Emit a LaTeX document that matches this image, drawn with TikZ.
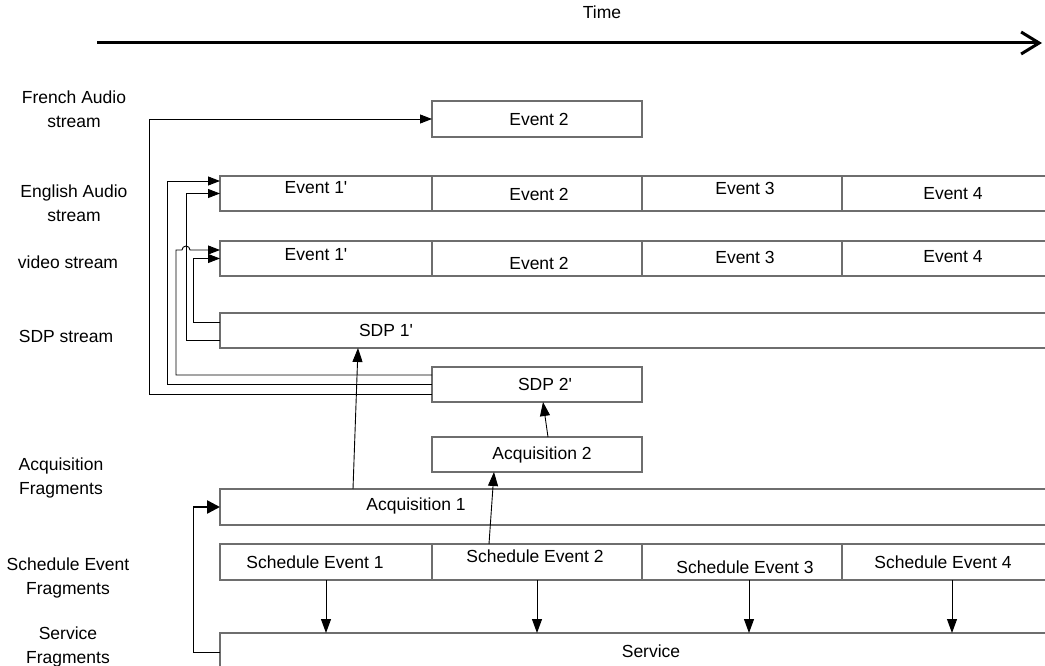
\documentclass[tikz,border=0pt]{standalone}
\usepackage{fontspec}
\setmainfont{Liberation Sans}
\usetikzlibrary{arrows.meta,calc}
\definecolor{boxgray}{HTML}{6E6E6E}
\newcommand{\pr}{\textquotesingle}
\begin{document}
\begin{tikzpicture}[x=1pt,y=-1pt,
  font=\fontsize{17.5}{24}\selectfont,
  cell/.style={draw=boxgray,line width=1.1pt,inner sep=0pt,outer sep=0pt,minimum height=35pt},
  txt/.style={inner sep=0pt},
  lbl/.style={align=center,inner sep=0pt},
  conn/.style={draw=black,line width=0.9pt},
  arr/.style={conn,-{Triangle[length=12pt,width=9pt]}},
  arrb/.style={conn,-{Triangle[length=14pt,width=10pt]}},
]
\useasboundingbox (0,0) rectangle (1045,666);
\clip (0,0) rectangle (1045,666);

% time axis
\coordinate (t0) at (97,43);
\coordinate (t1) at (1042,43);
\draw[line width=3pt,-{Straight Barb[length=18pt,width=22pt]}] (t0) -- (t1);
\node[txt] (time) at (602,12) {Time};

% left labels
\node[lbl] (lfr)  at (74,109) {French Audio\\stream};
\node[lbl] (len)  at (74,203) {English Audio\\stream};
\node[lbl] (lvi)  at (68,262) {video stream};
\node[lbl] (lsdp) at (66,336) {SDP stream};
\node[lbl] (lacq) at (61,478) {Acquisition\\Fragments};
\node[lbl] (lsch) at (68,578) {Schedule Event\\Fragments};
\node[lbl] (lsrv) at (68,647) {Service\\Fragments};

% French audio
\node[cell,minimum width=210pt,minimum height=36pt] (fr2) at (537,119) {};
% English audio row
\node[cell,minimum width=212pt] (en1) at (326,193.5) {};
\node[cell,minimum width=210pt] (en2) at (537,193.5) {};
\node[cell,minimum width=200pt] (en3) at (742,193.5) {};
\node[cell,minimum width=210pt] (en4) at (947,193.5) {};
% video row
\node[cell,minimum width=212pt] (vi1) at (326,258.5) {};
\node[cell,minimum width=210pt] (vi2) at (537,258.5) {};
\node[cell,minimum width=200pt] (vi3) at (742,258.5) {};
\node[cell,minimum width=210pt] (vi4) at (947,258.5) {};
% SDP
\node[cell,minimum width=832pt] (sdpS) at (636,330.5) {};
\node[cell,minimum width=210pt] (sdp2) at (537,384.5) {};
% acquisition
\node[cell,minimum width=210pt] (acq2) at (537,454.5) {};
\node[cell,minimum width=832pt,minimum height=36pt] (acq1) at (636,507) {};
% schedule
\node[cell,minimum width=212pt,minimum height=36pt] (sch1) at (326,562) {};
\node[cell,minimum width=210pt,minimum height=36pt] (sch2) at (537,562) {};
\node[cell,minimum width=200pt,minimum height=36pt] (sch3) at (742,562) {};
\node[cell,minimum width=210pt,minimum height=36pt] (sch4) at (947,562) {};
% service
\node[cell,minimum width=832pt,minimum height=38pt] (serv) at (636,652) {};

% texts
\node[txt] (tfr2) at (539,119) {Event 2};
\node[txt] (ten1) at (316,188) {Event 1\pr};
\node[txt] (ten2) at (539,194) {Event 2};
\node[txt] (ten3) at (745,188) {Event 3};
\node[txt] (ten4) at (953,194) {Event 4};
\node[txt] (tvi1) at (316,255) {Event 1\pr};
\node[txt] (tvi2) at (539,263) {Event 2};
\node[txt] (tvi3) at (745,257) {Event 3};
\node[txt] (tvi4) at (953,257) {Event 4};
\node[txt] (tsdp1) at (386,330) {SDP 1\pr};
\node[txt] (tsdp2) at (545,384) {SDP 2\pr};
\node[txt] (tacq2) at (542,455) {Acquisition 2};
\node[txt] (tacq1) at (416,506) {Acquisition 1};
\node[txt] (tsch1) at (315,562) {Schedule Event 1};
\node[txt] (tsch2) at (535,556) {Schedule Event 2};
\node[txt] (tsch3) at (745,567) {Schedule Event 3};
\node[txt] (tsch4) at (943,562) {Schedule Event 4};
\node[txt] (tserv) at (651,651) {Service};

% left connectors
\draw[arr] ([yshift=-9.5pt]sdpS.west) -| (186,193.5) -- (en1.west);
\draw[arr] ([yshift=8.5pt]sdpS.west) -| (193,258.5) -- (vi1.west);
\draw[arr] ([yshift=9.5pt]sdp2.west) -| (176,250) -- (182,250)
  arc[start angle=180,end angle=0,radius=4pt] -- ([yshift=8.5pt]vi1.west);
\draw[arr] (sdp2.west) -| (167,181) -- ([yshift=12.5pt]en1.west);
\draw[arr] ([yshift=-9.5pt]sdp2.west) -| (149,119) -- (fr2.west);

% service to acquisition 1
\coordinate (sa) at (193,507);
\draw[conn] (serv.west) -| (sa);
\draw[line width=2.5pt,-{Triangle[length=13pt,width=13pt]}] (sa) -- (acq1.west);

% upward arrows
\draw[arrb] ($(acq1.north west)+(133,0)$) -- ($(sdpS.south west)+(138,0)$);
\draw[arrb] ($(sch2.north west)+(57,0)$) -- ($(acq2.south west)+(62,0)$);
\draw[arrb] ($(acq2.north west)+(116,0)$) -- ($(sdp2.south west)+(111,0)$);

% downward arrows
\path (sch1.south) coordinate (d1);
\path (sch2.south) coordinate (d2);
\path ($(sch3.south)+(7,0)$) coordinate (d3);
\path ($(sch4.south)+(5,0)$) coordinate (d4);
\draw[arrb] (d1) -- (d1 |- serv.north);
\draw[arrb] (d2) -- (d2 |- serv.north);
\draw[arrb] (d3) -- (d3 |- serv.north);
\draw[arrb] (d4) -- (d4 |- serv.north);
\end{tikzpicture}
\end{document}
